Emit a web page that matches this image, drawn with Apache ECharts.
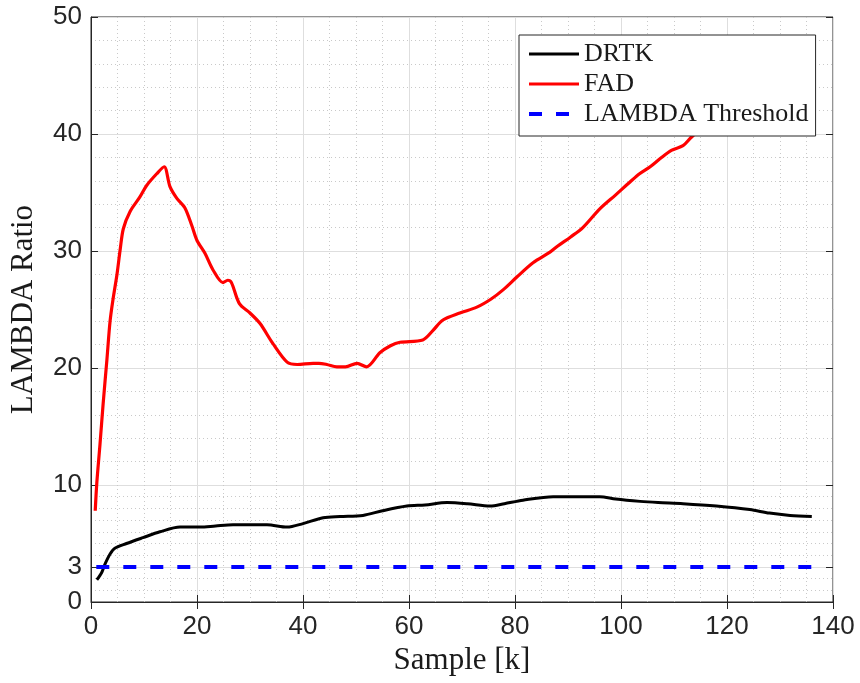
<!DOCTYPE html>
<html>
<head>
<meta charset="utf-8">
<script src="https://cdn.jsdelivr.net/npm/echarts@6/dist/echarts.min.js"></script>
<style>html,body{margin:0;padding:0;background:#fff;}#main{width:860px;height:683px;}</style>
</head>
<body>
<div id="main"></div>
<script>
// ---- data ----
const fadSamples = [0.8, 1.1, 1.7, 2.3, 3, 3.6, 4.2, 4.9, 5.5, 6.1, 7.4, 9.2, 10.5, 12.4, 13.8, 14.9, 16.2, 17.7, 19, 20, 21.5, 23, 24.9, 25.8, 26.5, 28, 30, 31.9, 34.3, 37, 38.9, 41.9, 43, 44.5, 46.4, 48, 50.2, 52, 54.5, 56.5, 58.3, 62.6, 64.5, 66.4, 69.6, 72.8, 75.5, 77.8, 80.4, 83.4, 86.6, 88, 90.5, 92.8, 96, 99, 101.7, 103.5, 105.5, 107.4, 109.5, 111.7, 113, 114.3, 117, 120];
const fadValues  = [7.8, 10.2, 13.5, 17, 20.7, 24, 26, 28, 30.1, 31.9, 33.4, 34.6, 35.6, 36.6, 37.2, 35.5, 34.5, 33.7, 32.2, 30.9, 29.8, 28.4, 27.3, 27.5, 27.3, 25.5, 24.7, 23.8, 22.1, 20.5, 20.3, 20.4, 20.4, 20.3, 20.1, 20.1, 20.4, 20.1, 21.3, 21.9, 22.2, 22.4, 23.2, 24.1, 24.7, 25.2, 25.9, 26.7, 27.8, 29, 29.9, 30.4, 31.2, 32.0, 33.6, 34.8, 35.9, 36.6, 37.2, 37.9, 38.6, 39.0, 39.6, 40.2, 41.9, 43.6];

const drtkSamples = [1.1, 2, 2.6, 3.6, 4.5, 6.7, 9.8, 13, 16.8, 20.6, 23.5, 26.8, 30, 33.2, 37, 40, 43.8, 47, 51.3, 55, 59.6, 63, 67.2, 71, 75.3, 78, 81.5, 87.2, 92.3, 96, 99, 103.6, 107, 111.7, 118, 124.3, 128, 131.9, 136];
const drtkValues  = [1.9, 2.5, 3.2, 4.1, 4.6, 5.0, 5.5, 6.0, 6.4, 6.4, 6.5, 6.6, 6.6, 6.6, 6.4, 6.7, 7.2, 7.3, 7.4, 7.8, 8.2, 8.3, 8.5, 8.4, 8.2, 8.4, 8.7, 9.0, 9.0, 9.0, 8.8, 8.6, 8.5, 8.4, 8.2, 7.9, 7.6, 7.4, 7.3];

const thresholdSamples = [1, 136];
const thresholdValues  = [3, 3];

const yMajorTicks = [0, 3, 10, 20, 30, 40, 50];
const yMinorTicks = [1, 2, 4, 5, 6, 7, 8, 9, 12, 14, 16, 18, 22, 24, 26, 28, 32, 34, 36, 38, 42, 44, 46, 48];

const seriesNames = ['DRTK', 'FAD', 'LAMBDA Threshold'];

const zip = (a, b) => a.map((x, i) => [x, b[i]]);

// ---- chart ----
const chart = echarts.init(document.getElementById('main'), null, {renderer: 'canvas'});
const axisColor = '#262626';
const numFont = {fontFamily: 'Liberation Sans', fontSize: 26, color: axisColor};
const titleFont = {fontFamily: 'Liberation Serif', fontSize: 31, color: '#1a1a1a'};

chart.setOption({
  backgroundColor: '#ffffff',
  animation: false,
  grid: {left: 91, right: 27, top: 17, bottom: 81, show: true, borderColor: axisColor, borderWidth: 1, backgroundColor: 'transparent'},
  legend: {
    orient: 'vertical', left: 519, top: 35,
    padding: [6, 7, 9, 8],
    itemGap: 4, itemWidth: 50, itemHeight: 14,
    backgroundColor: '#ffffff', borderColor: axisColor, borderWidth: 1, borderRadius: 0,
    itemStyle: {opacity: 0},
    lineStyle: {width: 3},
    textStyle: {fontFamily: 'Liberation Serif', fontSize: 26, lineHeight: 25, color: '#1a1a1a'},
    data: [
      {name: seriesNames[0], lineStyle: {width: 3}},
      {name: seriesNames[1], lineStyle: {width: 3}},
      {name: seriesNames[2], lineStyle: {width: 4}}
    ]
  },
  xAxis: [
    {
      type: 'value', min: 0, max: 140, interval: 20, position: 'bottom',
      name: 'Sample [k]', nameLocation: 'middle', nameGap: 38, nameTextStyle: titleFont,
      axisLine: {show: true, lineStyle: {color: axisColor, width: 1}},
      axisTick: {show: true, inside: true, length: 7, lineStyle: {color: axisColor}},
      axisLabel: Object.assign({margin: 12}, numFont),
      splitLine: {show: true, lineStyle: {color: '#dedede', width: 1}},
      minorTick: {show: false, splitNumber: 4},
      minorSplitLine: {show: true, lineStyle: {color: '#c9c9c9', width: 1, type: [1, 3]}}
    },
    {
      type: 'value', min: 0, max: 140, interval: 20, position: 'top',
      axisLine: {show: false},
      axisTick: {show: true, inside: true, length: 7, lineStyle: {color: axisColor}},
      axisLabel: {show: false},
      splitLine: {show: false}
    }
  ],
  yAxis: [
    {
      type: 'value', min: 0, max: 50, interval: 10, position: 'left',
      name: 'LAMBDA Ratio', nameLocation: 'middle', nameGap: 52, nameTextStyle: titleFont,
      axisLine: {show: true, lineStyle: {color: axisColor, width: 1}},
      axisTick: {show: true, inside: true, length: 7, lineStyle: {color: axisColor}, customValues: yMajorTicks},
      axisLabel: Object.assign({margin: 9, customValues: yMajorTicks}, numFont),
      splitLine: {show: true, lineStyle: {color: '#dedede', width: 1}}
    },
    {
      type: 'value', min: 0, max: 50, interval: 10, position: 'left',
      axisLine: {show: false},
      axisTick: {show: false, customValues: yMinorTicks},
      axisLabel: {show: false, customValues: yMinorTicks},
      splitLine: {show: true, lineStyle: {color: '#c9c9c9', width: 1, type: [1, 3]}}
    },
    {
      type: 'value', min: 0, max: 50, interval: 10, position: 'right',
      axisLine: {show: false},
      axisTick: {show: true, inside: true, length: 7, lineStyle: {color: axisColor}, customValues: yMajorTicks},
      axisLabel: {show: false, customValues: yMajorTicks},
      splitLine: {show: false}
    }
  ],
  series: [
    {
      name: seriesNames[0], type: 'line', data: zip(drtkSamples, drtkValues),
      symbol: 'none', smooth: 0.3, color: '#000000',
      lineStyle: {color: '#000000', width: 3}
    },
    {
      name: seriesNames[1], type: 'line', data: zip(fadSamples, fadValues),
      symbol: 'none', smooth: 0.3, color: '#ff0000',
      lineStyle: {color: '#ff0000', width: 3.2}
    },
    {
      name: seriesNames[2], type: 'line', data: zip(thresholdSamples, thresholdValues),
      symbol: 'none', color: '#0000ff',
      lineStyle: {color: '#0000ff', width: 4, type: [13, 14], cap: 'butt'}
    }
  ]
});
</script>
</body>
</html>
